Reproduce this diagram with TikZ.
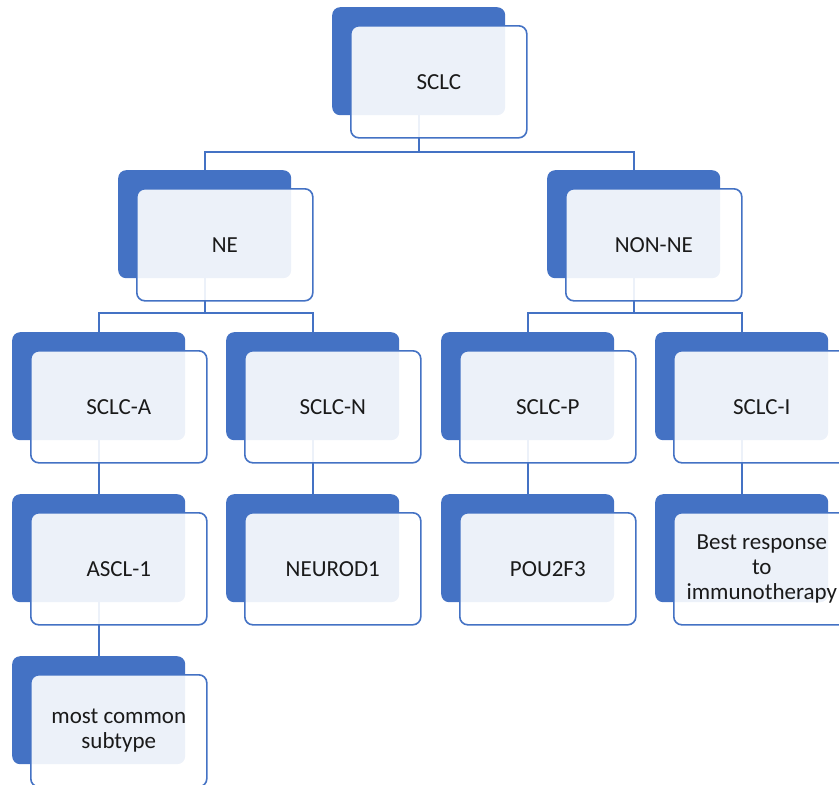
\documentclass[tikz,border=0pt]{standalone}
\usepackage{fontspec}
\setmainfont{Carlito}
\usetikzlibrary{backgrounds}
\definecolor{obl}{HTML}{4472C4}
\definecolor{txt}{HTML}{1A1A1A}
\tikzset{
  backbox/.style={draw=none, fill=obl, rounded corners=8pt, minimum width=173pt, minimum height=108pt, inner sep=0pt, anchor=north west},
  frontbox/.style={draw=obl, line width=1.6pt, fill=white, fill opacity=0.9, draw opacity=1, text opacity=1, rounded corners=8pt, minimum width=176pt, minimum height=112pt, inner sep=0pt, anchor=north west, align=center, text=txt, font=\fontsize{23}{25}\selectfont},
  conn/.style={draw=obl, line width=1.8pt}
}
\newcommand\dualbox[4]{%
  \node[backbox] (#1) at (#2,#3) {};
  \node[frontbox] (#1F) at (#2+18,#3+18) {#4};
}
\begin{document}
\begin{tikzpicture}[x=1pt,y=-1pt]
\useasboundingbox (0,0) rectangle (839,785);
\coordinate (bus1) at (0,152);
\coordinate (bus2) at (0,313);
\dualbox{sclc}{332}{7}{SCLC}
\dualbox{ne}{118}{170}{NE}
\dualbox{nonne}{547}{170}{NON-NE}
\dualbox{sa}{12}{332}{SCLC-A}
\dualbox{sn}{226}{332}{SCLC-N}
\dualbox{sp}{441}{332}{SCLC-P}
\dualbox{si}{655}{332}{SCLC-I}
\dualbox{ascl}{12}{494}{ASCL-1}
\dualbox{neurod}{226}{494}{NEUROD1}
\dualbox{pou}{441}{494}{POU2F3}
\dualbox{best}{655}{494}{Best response\\to\\immunotherapy}
\dualbox{common}{12}{656}{most common\\subtype}
\begin{scope}[on background layer]
  \draw[conn] (sclc.south) -- (sclc.south |- bus1);
  \draw[conn] (ne.north) |- (nonne.north |- bus1) -- (nonne.north);
  \draw[conn] (ne.south) -- (ne.south |- bus2);
  \draw[conn] (sa.north) |- (sn.north |- bus2) -- (sn.north);
  \draw[conn] (nonne.south) -- (nonne.south |- bus2);
  \draw[conn] (sp.north) |- (si.north |- bus2) -- (si.north);
  \draw[conn] (sa.south) -- (ascl.north);
  \draw[conn] (sn.south) -- (neurod.north);
  \draw[conn] (sp.south) -- (pou.north);
  \draw[conn] (si.south) -- (best.north);
  \draw[conn] (ascl.south) -- (common.north);
\end{scope}
\end{tikzpicture}
\end{document}
